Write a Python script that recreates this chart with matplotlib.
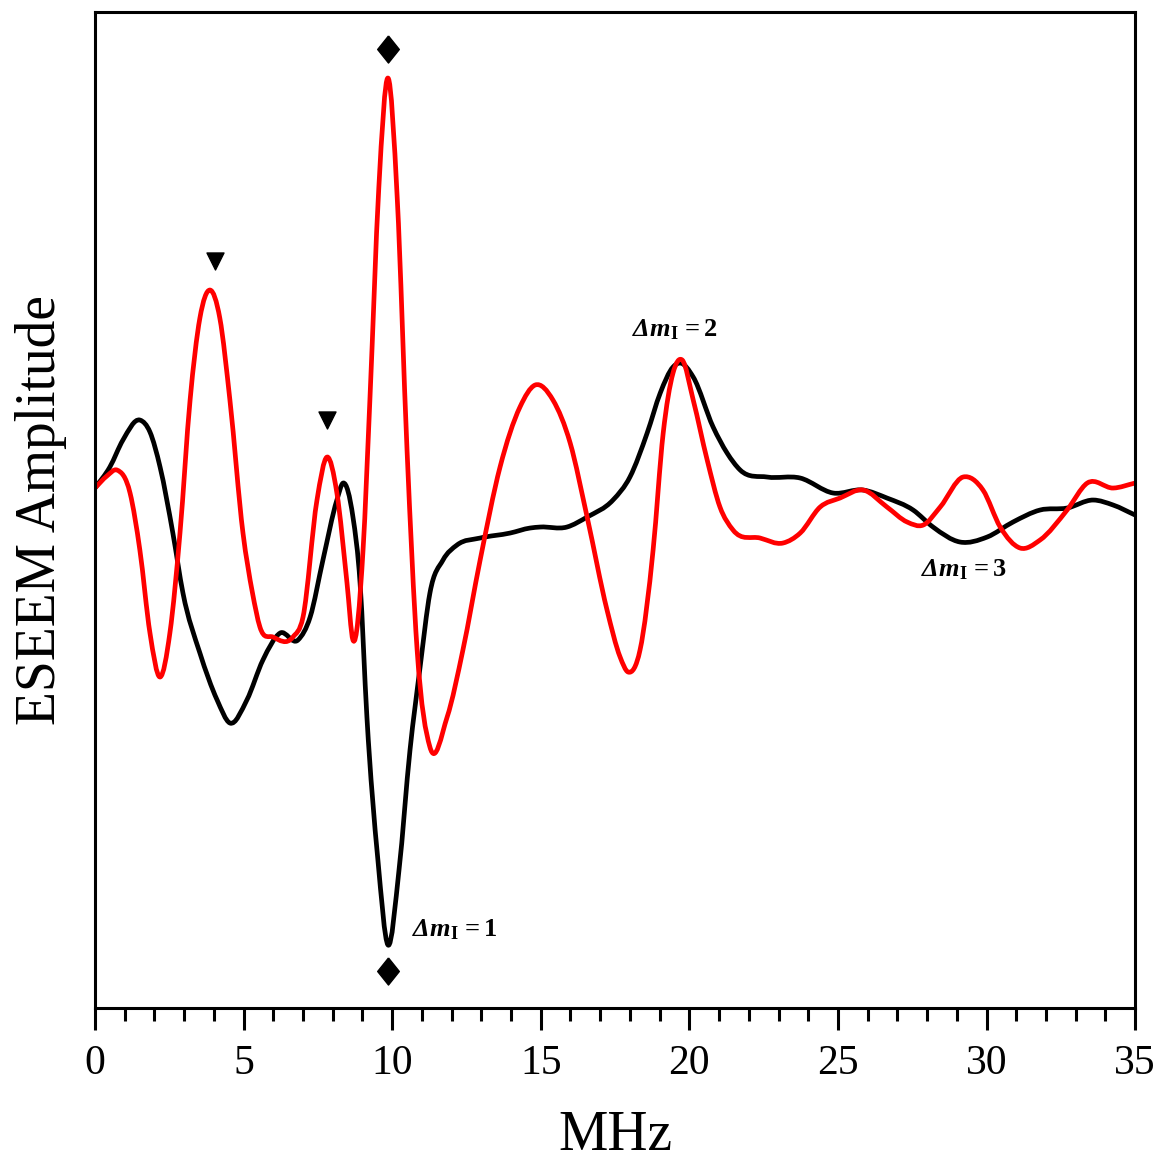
import numpy as np
import matplotlib
matplotlib.use("Agg")
import matplotlib.pyplot as plt
from matplotlib.path import Path
from matplotlib.patches import PathPatch

plt.rcParams['font.family'] = ['Liberation Serif', 'DejaVu Serif']
plt.rcParams['mathtext.fontset'] = 'custom'
plt.rcParams['mathtext.rm'] = 'Liberation Serif'
plt.rcParams['mathtext.it'] = 'Liberation Serif:italic'
plt.rcParams['mathtext.bf'] = 'Liberation Serif:bold'
plt.rcParams['mathtext.bfit'] = 'Liberation Serif:bold:italic'

# black trace (MHz, arbitrary amplitude)
black_x = [0.00, 0.50, 0.94, 1.51, 1.85, 2.19, 2.62, 2.96, 3.53, 4.11, 4.54,
           5.11, 5.65, 6.23, 6.83, 7.24, 7.67, 8.14, 8.35, 8.68, 8.92, 9.15, 9.52,
           9.86, 10.23, 10.60, 10.94, 11.27, 11.71, 12.18, 12.96, 13.97,
           14.64, 14.98, 15.88, 16.56, 17.43, 18.00, 18.58, 19.02, 19.45, 19.69,
           20.13, 20.80, 21.27, 21.71, 22.62, 23.73, 24.84, 25.85, 26.65, 27.53,
           28.20, 29.11, 30.02, 30.89, 31.80, 32.71, 33.59, 34.26, 35.00]
black_y = [0.0, 2.1, 4.8, 6.8, 5.6, 2.1, -4.5, -10.5, -16.5, -21.2, -23.5,
           -21.2, -17.2, -14.5, -15.2, -12.9, -7.2, -1.2, 0.5, -2.9, -9.5, -22.9, -37.2,
           -45.7, -38.2, -26.2, -17.9, -10.5, -7.2, -5.7, -5.0, -4.5,
           -4.0, -3.9, -3.9, -2.9, -1.2, 1.1, 5.5, 9.5, 12.1, 12.5,
           11.1, 6.1, 3.5, 1.8, 1.1, 1.0, -0.5, -0.2, -1.0, -2.2,
           -3.9, -5.4, -4.9, -3.4, -2.2, -2.0, -1.2, -1.7, -2.7]

# red trace
red_x = [0.00, 0.40, 0.74, 1.18, 1.51, 1.85, 2.19, 2.52, 2.86,
         3.20, 3.53, 3.87, 4.20, 4.54, 4.98, 5.30, 5.55, 5.99, 6.66, 7.00, 7.47,
         7.81, 8.14, 8.48, 8.68, 9.02, 9.25, 9.55, 9.86, 10.17,
         10.50, 10.84, 11.27, 11.85, 12.38, 12.96, 13.63, 14.30, 14.81,
         15.41, 15.99, 16.56, 17.23, 17.67, 17.94, 18.34, 18.78, 19.12, 19.45,
         19.76, 20.13, 20.60, 21.03, 21.47, 22.38, 23.15, 23.73, 24.40, 25.07,
         25.85, 26.65, 27.33, 27.87, 28.44, 29.21, 29.88, 30.46, 31.13, 31.80,
         32.71, 33.39, 34.26, 35.00]
red_y = [0.0, 1.2, 1.8, -0.5, -6.2, -14.5, -18.9, -14.5, -4.5,
         8.8, 17.0, 19.8, 17.0, 8.8, -4.5, -10.5, -13.9, -14.9, -14.9, -12.9, -1.2,
         3.1, -0.5, -9.5, -15.2, -6.2, 8.8, 30.0, 41.0, 29.0,
         3.8, -16.2, -25.9, -22.9, -16.2, -7.2, 2.1, 8.1, 10.3,
         8.8, 4.5, -2.9, -12.2, -16.9, -18.4, -16.2, -6.2, 5.5, 11.5,
         12.8, 8.8, 2.8, -1.9, -4.2, -5.0, -5.5, -4.5, -1.9, -1.0,
         -0.2, -1.9, -3.4, -3.7, -1.9, 1.1, -0.2, -3.9, -6.0, -5.2,
         -2.2, 0.5, 0.0, 0.5]

tri_x = [4.04, 7.81]
tri_y = [22.7, 6.8]
dia_x = [9.86, 9.86]
dia_y = [43.9, -48.3]

labels = [r'$\mathbfit{\Delta m}_{\mathbf{I}}\,\mathbf{=1}$',
          r'$\mathbfit{\Delta m}_{\mathbf{I}}\,\mathbf{=2}$',
          r'$\mathbfit{\Delta m}_{\mathbf{I}}\,\mathbf{=3}$']
label_x = [10.67, 18.07, 27.8]
label_y = [-44.2, 15.8, -8.2]


def smooth_path(x, y):
    # draw the read points as one curve: cubic Bezier pieces with
    # Hermite tangents, so the line passes through every point
    x = np.asarray(x, float)
    y = np.asarray(y, float)
    m = np.gradient(y, x)
    verts = [(x[0], y[0])]
    codes = [Path.MOVETO]
    for i in range(len(x) - 1):
        h = x[i + 1] - x[i]
        verts += [(x[i] + h / 3, y[i] + m[i] * h / 3),
                  (x[i + 1] - h / 3, y[i + 1] - m[i + 1] * h / 3),
                  (x[i + 1], y[i + 1])]
        codes += [Path.CURVE4] * 3
    return Path(verts, codes)


fig = plt.figure(figsize=(11.57, 11.69), dpi=100)
ax = fig.add_axes([0.0821, 0.1377, 0.899, 0.852])

for xs, ys, c in [(black_x, black_y, 'black'), (red_x, red_y, '#ff0000')]:
    ax.add_patch(PathPatch(smooth_path(xs, ys), facecolor='none', edgecolor=c,
                           lw=3.4, joinstyle='round', capstyle='round'))
ax.scatter(tri_x, tri_y, marker='v', s=150, color='black', zorder=5)
diamond = [(0, 1), (0.8, 0), (0, -1), (-0.8, 0), (0, 1)]
ax.scatter(dia_x, dia_y, marker=diamond, s=380, color='black', zorder=5)
for t, x, y in zip(labels, label_x, label_y):
    ax.text(x, y, t, fontsize=19, ha='left', va='center')

ax.set_xlim(0, 35)
ax.set_ylim(-52.0, 47.6)
ax.set_xticks(range(0, 36, 5))
ax.set_xticks(range(0, 36), minor=True)
ax.set_yticks([])
ax.tick_params(axis='x', which='major', length=16, width=2.2, labelsize=30, pad=10)
ax.tick_params(axis='x', which='minor', length=9, width=2.2)
for s in ax.spines.values():
    s.set_linewidth(2.2)

ax.set_xlabel('MHz', fontsize=40, labelpad=20)
ax.set_ylabel('ESEEM Amplitude', fontsize=40, labelpad=20)

fig.savefig('out.png', dpi=100)
